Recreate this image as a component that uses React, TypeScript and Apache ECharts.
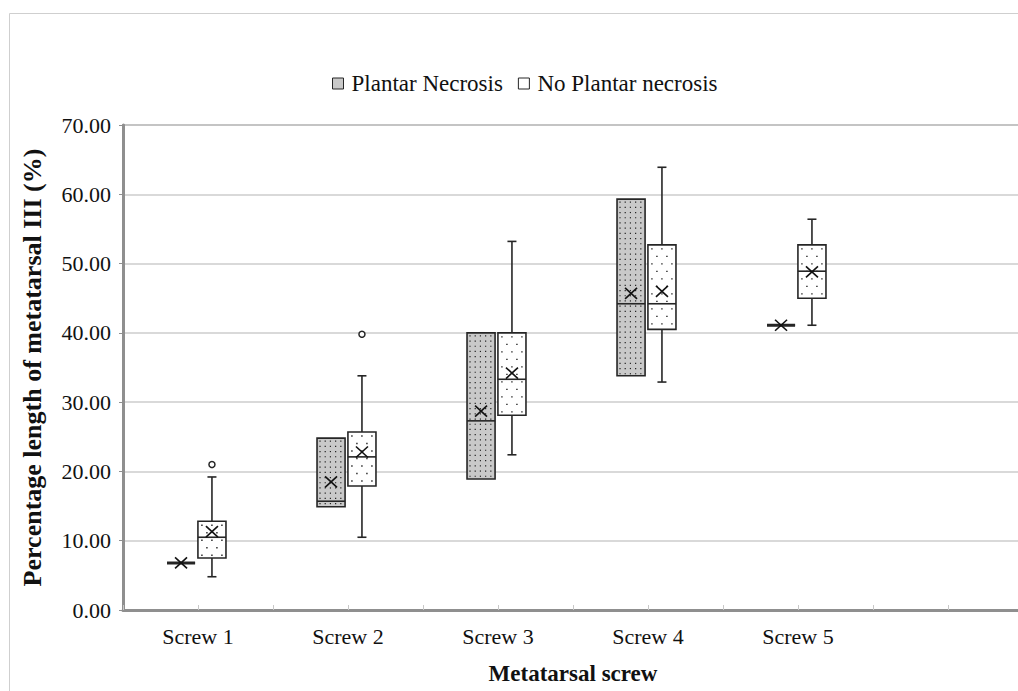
import React, { useEffect, useRef } from "react";
import * as echarts from "echarts";

const categories = ["Screw 1", "Screw 2", "Screw 3", "Screw 4", "Screw 5", ""];
const tickSlots = ["", "", "", "", "", "", "", "", "", "", "", ""];
const seriesNames = ["Plantar Necrosis", "No Plantar necrosis"];
const yTicks = [0, 10, 20, 30, 40, 50, 60, 70];

// [min, Q1, median, Q3, max, mean] per screw
const plantarStats = [
  [6.8, 6.8, 6.8, 6.8, 6.8, 6.8],
  [14.9, 14.9, 15.7, 24.8, 24.8, 18.5],
  [18.9, 18.9, 27.3, 40.0, 40.0, 28.7],
  [33.8, 33.8, 44.2, 59.3, 59.3, 45.7],
  [41.1, 41.1, 41.1, 41.1, 41.1, 41.1],
];
const noPlantarStats = [
  [4.8, 7.5, 10.5, 12.8, 19.2, 11.3],
  [10.5, 17.9, 22.1, 25.7, 33.8, 22.8],
  [22.4, 28.1, 33.3, 40.0, 53.2, 34.2],
  [32.9, 40.5, 44.2, 52.7, 63.9, 46.0],
  [41.1, 45.0, 48.9, 52.7, 56.4, 48.8],
];
// [screw index, value]
const noPlantarOutliers = [
  [0, 21.0],
  [1, 39.8],
];

const FONT = "'Liberation Serif', 'Times New Roman', serif";
const GREY_FILL = "#c9c9c9";
const STROKE = "#262626";

function makeBoxRender(offsetFrac: number, widthFrac: number, shaded: boolean) {
  return (params: any, api: any) => {
    const cat = api.value(0);
    const band = api.size([1, 0])[0];
    const cx = api.coord([cat, 0])[0] + offsetFrac * band;
    const w = widthFrac * band;
    const x0 = cx - w / 2;
    const y = (v: number) => api.coord([cat, v])[1];
    const yMin = y(api.value(1));
    const yQ1 = y(api.value(2));
    const yMed = y(api.value(3));
    const yQ3 = y(api.value(4));
    const yMax = y(api.value(5));
    const yMean = y(api.value(6));
    const children: any[] = [];
    const lw = 1.6;
    const capW = 9;
    if (yMax < yQ3 - 0.5) {
      children.push({ type: "line", shape: { x1: cx, y1: yQ3, x2: cx, y2: yMax }, style: { stroke: STROKE, lineWidth: lw } });
      children.push({ type: "line", shape: { x1: cx - capW / 2, y1: yMax, x2: cx + capW / 2, y2: yMax }, style: { stroke: STROKE, lineWidth: lw } });
    }
    if (yMin > yQ1 + 0.5) {
      children.push({ type: "line", shape: { x1: cx, y1: yQ1, x2: cx, y2: yMin }, style: { stroke: STROKE, lineWidth: lw } });
      children.push({ type: "line", shape: { x1: cx - capW / 2, y1: yMin, x2: cx + capW / 2, y2: yMin }, style: { stroke: STROKE, lineWidth: lw } });
    }
    const h = yQ1 - yQ3;
    children.push({
      type: "rect",
      shape: { x: x0, y: yQ3, width: w, height: h },
      style: { fill: shaded ? GREY_FILL : "#ffffff", stroke: STROKE, lineWidth: h < 1 ? 3 : lw },
    });
    if (h > 4) {
      if (shaded) {
        const sp = 5.2;
        for (let yy = yQ3 + 3; yy < yQ1 - 1.5; yy += sp) {
          for (let xx = x0 + 3; xx < x0 + w - 1.5; xx += sp) {
            children.push({ type: "rect", shape: { x: xx - 0.6, y: yy - 0.6, width: 1.2, height: 1.2 }, style: { fill: "#222" } });
          }
        }
      } else {
        const spx = 10;
        const spy = 7.5;
        let row = 0;
        for (let yy = yQ3 + 4; yy < yQ1 - 2; yy += spy, row++) {
          for (let xx = x0 + 4 + (row % 2) * 5; xx < x0 + w - 2; xx += spx) {
            children.push({ type: "rect", shape: { x: xx - 0.7, y: yy - 0.7, width: 1.4, height: 1.4 }, style: { fill: "#222" } });
          }
        }
      }
    }
    children.push({ type: "line", shape: { x1: x0, y1: yMed, x2: x0 + w, y2: yMed }, style: { stroke: STROKE, lineWidth: lw } });
    const mx = 6, my = 5.5;
    children.push({ type: "line", shape: { x1: cx - mx, y1: yMean - my, x2: cx + mx, y2: yMean + my }, style: { stroke: "#111", lineWidth: 1.6 } });
    children.push({ type: "line", shape: { x1: cx - mx, y1: yMean + my, x2: cx + mx, y2: yMean - my }, style: { stroke: "#111", lineWidth: 1.6 } });
    return { type: "group", children };
  };
}

function makeOutlierRender(offsetFrac: number) {
  return (params: any, api: any) => {
    const cat = api.value(0);
    const band = api.size([1, 0])[0];
    const p = api.coord([cat, api.value(1)]);
    return {
      type: "circle",
      shape: { cx: p[0] + offsetFrac * band, cy: p[1], r: 3 },
      style: { fill: "#fff", stroke: STROKE, lineWidth: 1.5 },
    };
  };
}

export default function App() {
  const ref = useRef<HTMLDivElement>(null);
  useEffect(() => {
    if (!ref.current) return;
    const chart = echarts.init(ref.current, undefined, { renderer: "svg" });
    const plantarData = plantarStats.map((s, i) => [i, ...s]);
    const noPlantarData = noPlantarStats.map((s, i) => [i, ...s]);
    const option: any = {
      animation: false,
      backgroundColor: "#ffffff",
      textStyle: { fontFamily: FONT },
      graphic: [
        {
          type: "rect",
          silent: true,
          z: -10,
          shape: { x: 9.5, y: 13.5, width: 1040, height: 700 },
          style: { fill: "none", stroke: "#cfcfcf", lineWidth: 1 },
        },
      ],
      legend: {
        left: 327,
        top: 67,
        icon: "rect",
        itemWidth: 11,
        itemHeight: 11,
        itemGap: 15,
        textStyle: { fontFamily: FONT, fontSize: 23, color: "#111", padding: [0, 0, 0, 3] },
        data: [
          { name: seriesNames[0], itemStyle: { color: GREY_FILL, borderColor: STROKE, borderWidth: 1 } },
          { name: seriesNames[1], itemStyle: { color: "#fff", borderColor: STROKE, borderWidth: 1 } },
        ],
      },
      grid: {
        left: 123,
        top: 125,
        width: 900,
        height: 485,
        show: true,
        borderColor: "#8f8f8f",
        borderWidth: 1.5,
        outerBoundsMode: "none",
        containLabel: false,
      },
      xAxis: [
        {
          type: "category",
          data: categories,
          boundaryGap: true,
          name: "Metatarsal screw",
          nameLocation: "middle",
          nameGap: 52,
          nameTextStyle: { fontFamily: FONT, fontSize: 23, fontWeight: "bold", color: "#111" },
          axisLine: { lineStyle: { color: "#8f8f8f", width: 3 } },
          axisTick: { show: true, length: 5, inside: true, lineStyle: { color: "#c8c8c8" } },
          axisLabel: { fontFamily: FONT, fontSize: 22, color: "#111", margin: 15 },
          splitLine: { show: false },
          z: 5,
        },
        {
          type: "category",
          data: tickSlots,
          boundaryGap: true,
          position: "bottom",
          axisLine: { show: false },
          axisTick: { show: true, length: 5, inside: true, lineStyle: { color: "#c8c8c8" } },
          axisLabel: { show: false },
          splitLine: { show: false },
          z: 6,
        },
      ],
      yAxis: {
        type: "value",
        min: 0,
        max: 70,
        interval: 10,
        name: "Percentage length of metatarsal III (%)",
        nameLocation: "middle",
        nameGap: 78,
        nameTextStyle: { fontFamily: FONT, fontSize: 26, fontWeight: "bold", color: "#111" },
        axisLine: { show: true, lineStyle: { color: "#8f8f8f", width: 3 } },
        axisTick: { show: true, length: 4, lineStyle: { color: "#8f8f8f" } },
        axisLabel: {
          fontFamily: FONT,
          fontSize: 22,
          color: "#111",
          margin: 12,
          formatter: (v: number) => (yTicks.includes(v) ? v.toFixed(2) : ""),
        },
        splitLine: { show: true, lineStyle: { color: "#cccccc", width: 1.5 } },
      },
      series: [
        {
          name: seriesNames[0],
          type: "custom",
          renderItem: makeBoxRender(-0.113, 0.187, true),
          encode: { x: 0, y: [1, 2, 3, 4, 5, 6] },
          data: plantarData,
          itemStyle: { color: GREY_FILL },
          z: 3,
        },
        {
          name: seriesNames[1],
          type: "custom",
          renderItem: makeBoxRender(0.093, 0.187, false),
          encode: { x: 0, y: [1, 2, 3, 4, 5, 6] },
          data: noPlantarData,
          itemStyle: { color: "#ffffff" },
          z: 3,
        },
        {
          name: seriesNames[1],
          type: "custom",
          renderItem: makeOutlierRender(0.093),
          encode: { x: 0, y: 1 },
          data: noPlantarOutliers,
          itemStyle: { color: "#ffffff" },
          z: 4,
        },
      ],
    };
    chart.setOption(option);
    return () => chart.dispose();
  }, []);
  return (
    <div
      ref={ref}
      style={{ position: "fixed", left: 0, top: 0, width: 1018, height: 691, background: "#fff" }}
    />
  );
}
